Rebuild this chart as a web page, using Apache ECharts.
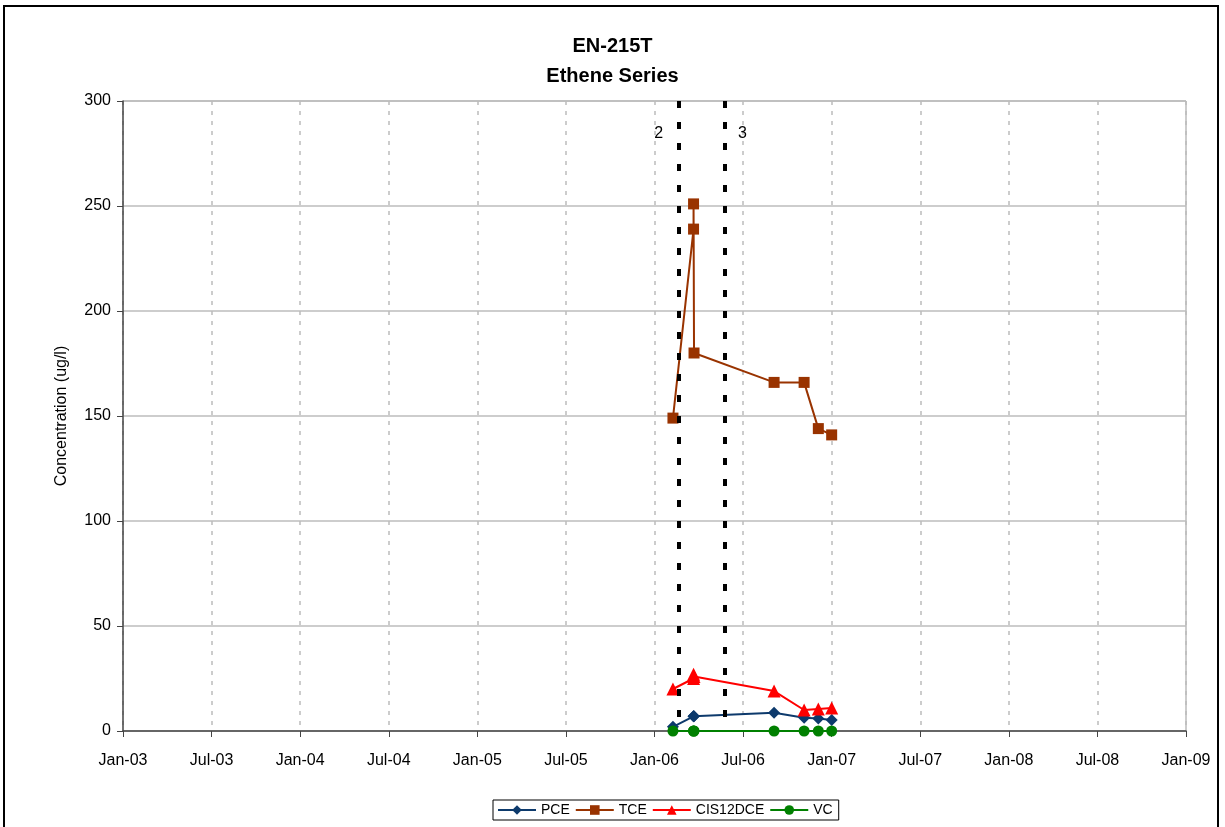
<!DOCTYPE html>
<html>
<head>
<meta charset="utf-8">
<script src="https://cdn.jsdelivr.net/npm/echarts@6/dist/echarts.min.js"></script>
<style>
  html, body { margin: 0; padding: 0; background: #fff; }
  #chart { width: 1225px; height: 827px; }
</style>
</head>
<body>
<div id="chart"></div>
<script>
// sample dates and concentrations (ug/l)
const sampleDates = ['2006-02-08', '2006-03-21', '2006-03-21', '2006-03-22', '2006-09-04', '2006-11-05', '2006-12-04', '2007-01-01']
const pce = [2, 7, 7, 7, 8.7, 6.3, 6, 5.2]
const tce = [149, 239, 251, 180, 166, 166, 144, 141]
const cis12dce = [20, 25, 27, 26, 19, 10, 10.5, 11]
const vc = [0, 0, 0, 0, 0, 0, 0, 0]

// event lines
const eventDates = ['2006-02-19', '2006-05-24']
const eventLabels = ['2', '3']

const monthNames = ['Jan', 'Feb', 'Mar', 'Apr', 'May', 'Jun', 'Jul', 'Aug', 'Sep', 'Oct', 'Nov', 'Dec']

// x axis counts months from Jan-03
const toMonths = s => {
  const d = new Date(s + 'T00:00:00Z')
  const y = d.getUTCFullYear()
  const m = d.getUTCMonth()
  const dim = new Date(Date.UTC(y, m + 1, 0)).getUTCDate()
  return (y - 2003) * 12 + m + (d.getUTCDate() - 1) / dim
}

const pairs = vals => vals.map((v, i) => [toMonths(sampleDates[i]), v])

const font = 'Liberation Sans, Arial, sans-serif'

const chart = echarts.init(document.getElementById('chart'))

const makeSeries = (name, vals, color, symbol, size) => ({
  name,
  type: 'line',
  data: pairs(vals),
  symbol,
  symbolSize: size,
  showAllSymbol: true,
  lineStyle: { color, width: 2 },
  itemStyle: { color },
  emphasis: { disabled: true },
  z: 3
})

const pceSeries = makeSeries('PCE', pce, '#0d3a6c', 'diamond', 12)
// dotted event lines drawn from the top down
pceSeries.markLine = {
  silent: true,
  symbol: 'none',
  lineStyle: { color: '#000', width: 4, type: [7, 14] },
  data: eventDates.map((d, i) => [
    {
      coord: [toMonths(d), 300],
      label: {
        show: true,
        formatter: eventLabels[i],
        position: 'start',
        color: '#000',
        fontSize: 16,
        fontFamily: font,
        offset: i === 0 ? [-20, 46] : [18, 46]
      }
    },
    { coord: [toMonths(d), 0] }
  ])
}

chart.setOption({
  animation: false,
  title: {
    text: 'EN-215T\nEthene Series',
    left: 'center',
    top: 26,
    textStyle: { fontFamily: font, fontSize: 20, fontWeight: 'bold', color: '#000', lineHeight: 30 }
  },
  legend: {
    left: 493,
    top: 800,
    padding: [3, 6, 3, 4],
    borderColor: '#000',
    borderWidth: 1,
    itemWidth: 38,
    itemHeight: 12,
    itemGap: 5,
    textStyle: { fontFamily: font, fontSize: 14, color: '#000' },
    data: ['PCE', 'TCE', 'CIS12DCE', 'VC']
  },
  grid: { left: 123, right: 39, top: 101, bottom: 96 },
  xAxis: {
    type: 'value',
    min: 0,
    max: 72,
    interval: 6,
    axisLine: { lineStyle: { color: '#444', width: 1.5 } },
    axisTick: { show: true, length: 6, lineStyle: { color: '#444' } },
    axisLabel: {
      margin: 22,
      fontFamily: font,
      fontSize: 16,
      color: '#000',
      formatter: v => monthNames[v % 12] + '-' + String(2003 + Math.floor(v / 12)).slice(2)
    },
    splitLine: { show: true, lineStyle: { color: '#bcbcbc', type: [4, 6], width: 1.5 } }
  },
  yAxis: {
    type: 'value',
    min: 0,
    max: 300,
    interval: 50,
    name: 'Concentration (ug/l)',
    nameLocation: 'middle',
    nameGap: 53,
    nameTextStyle: { fontFamily: font, fontSize: 16, color: '#000' },
    axisLine: { show: true, lineStyle: { color: '#444', width: 1.5 } },
    axisTick: { show: true, length: 6, lineStyle: { color: '#444' } },
    axisLabel: { margin: 12, fontFamily: font, fontSize: 16, color: '#000' },
    splitLine: { show: true, lineStyle: { color: '#bcbcbc', width: 1.5 } }
  },
  graphic: [{
    type: 'rect',
    shape: { x: 4, y: 6, width: 1214, height: 830 },
    style: { fill: 'none', stroke: '#000', lineWidth: 2 },
    silent: true
  }, {
    type: 'line',
    shape: { x1: 123, y1: 101, x2: 1186, y2: 101 },
    style: { stroke: '#999', lineWidth: 1 },
    silent: true
  }, {
    type: 'line',
    shape: { x1: 1186, y1: 101, x2: 1186, y2: 731 },
    style: { stroke: '#999', lineWidth: 1 },
    silent: true
  }],
  series: [
    pceSeries,
    makeSeries('TCE', tce, '#993300', 'rect', 11),
    makeSeries('CIS12DCE', cis12dce, '#ff0000', 'triangle', 13),
    makeSeries('VC', vc, '#008000', 'circle', 11)
  ]
})
</script>
</body>
</html>
